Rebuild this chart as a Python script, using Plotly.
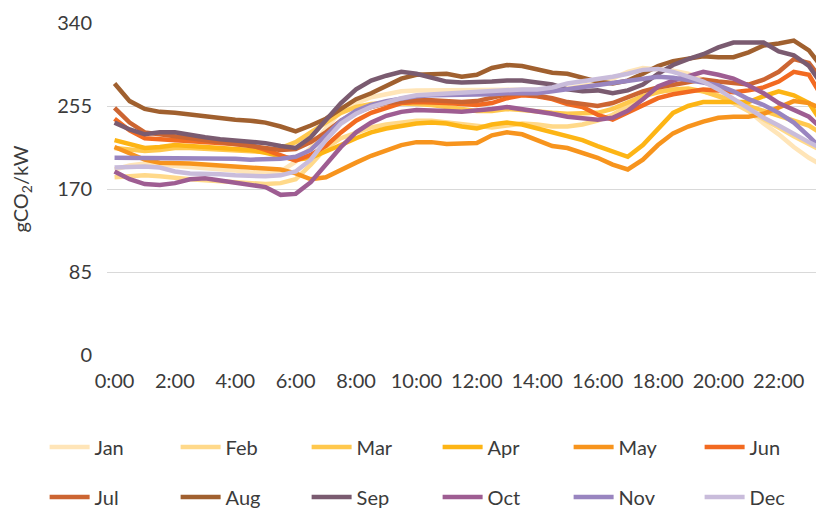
import plotly.graph_objects as go

times = [f"{h}:{m:02d}" for h in range(24) for m in (0, 30)]
tick_labels = ["0:00", "2:00", "4:00", "6:00", "8:00", "10:00", "12:00",
               "14:00", "16:00", "18:00", "20:00", "22:00"]
y_ticks = [0, 85, 170, 255, 340]

months = ["Jan", "Feb", "Mar", "Apr", "May", "Jun",
          "Jul", "Aug", "Sep", "Oct", "Nov", "Dec"]
colors = ["#FFE5B8", "#FFD98A", "#FFC84D", "#FDB515", "#F7941D", "#F26A21",
          "#CC6532", "#A0602F", "#7A5B70", "#9E5D92", "#9985C0", "#C9BCDB"]

jan = [190, 194, 196, 195, 193, 192, 191, 190, 189, 187, 187, 188,
       198, 212, 232, 250, 258, 264, 267, 270, 271, 271, 271, 271,
       271, 272, 272, 272, 272, 272, 273, 275, 278, 283, 290, 294,
       293, 291, 288, 282, 272, 262, 250, 237, 226, 213, 202, 193]
feb = [182, 183, 184, 183, 181, 180, 179, 178, 177, 176, 175, 176,
       180, 195, 212, 222, 228, 233, 236, 238, 240, 240, 238, 236,
       234, 233, 235, 237, 236, 234, 234, 236, 240, 246, 255, 265,
       270, 271, 272, 270, 266, 258, 250, 242, 233, 224, 216, 208]
mar = [212, 210, 209, 210, 212, 212, 211, 210, 209, 208, 208, 212,
       218, 228, 238, 248, 254, 257, 258, 258, 257, 256, 254, 252,
       250, 250, 252, 251, 249, 248, 247, 247, 248, 252, 258, 265,
       269, 272, 273, 270, 265, 260, 255, 250, 246, 241, 235, 225]
apr = [220, 216, 212, 213, 215, 214, 213, 212, 211, 210, 207, 203,
       200, 202, 208, 215, 222, 228, 232, 235, 237, 238, 237, 234,
       232, 236, 238, 236, 232, 229, 225, 220, 214, 208, 203, 215,
       232, 248, 255, 259, 259, 259, 259, 265, 270, 266, 258, 235]
may = [213, 207, 200, 197, 197, 196, 195, 194, 193, 193, 192, 190,
       186, 180, 182, 190, 197, 204, 210, 215, 218, 218, 216, 216,
       217, 225, 228, 226, 220, 214, 212, 207, 202, 195, 190, 200,
       215, 227, 234, 239, 243, 244, 244, 247, 253, 260, 258, 251]
jun = [242, 230, 222, 221, 220, 219, 218, 217, 216, 215, 210, 204,
       199, 205, 214, 228, 240, 248, 253, 258, 259, 259, 258, 257,
       256, 258, 263, 266, 265, 262, 257, 254, 246, 241, 248, 256,
       263, 267, 270, 272, 271, 269, 271, 274, 280, 290, 287, 261]
jul = [253, 238, 228, 226, 224, 222, 220, 219, 217, 215, 212, 210,
       211, 218, 228, 240, 248, 254, 258, 260, 261, 261, 260, 259,
       260, 263, 267, 268, 266, 263, 259, 257, 255, 258, 264, 270,
       274, 277, 280, 282, 280, 278, 277, 282, 290, 303, 299, 279]
aug = [278, 260, 252, 249, 248, 246, 244, 242, 241, 240, 238, 234,
       229, 235, 242, 252, 262, 268, 276, 283, 287, 288, 288, 285,
       287, 294, 297, 296, 292, 289, 288, 284, 280, 278, 281, 288,
       296, 301, 304, 306, 305, 305, 310, 317, 319, 322, 312, 292]
sep = [238, 231, 226, 228, 228, 225, 223, 221, 220, 219, 217, 214,
       212, 223, 240, 258, 272, 281, 286, 290, 288, 284, 280, 279,
       279, 280, 281, 281, 279, 277, 272, 270, 271, 268, 271, 277,
       288, 297, 303, 308, 315, 320, 320, 320, 311, 307, 296, 274]
oct_ = [188, 180, 175, 174, 176, 180, 181, 179, 176, 174, 172, 164,
        165, 177, 195, 213, 228, 238, 245, 249, 251, 251, 250, 249,
        250, 252, 254, 252, 249, 247, 244, 242, 241, 243, 250, 262,
        275, 281, 285, 290, 287, 283, 276, 268, 258, 251, 244, 230]
nov = [202, 202, 202, 202, 202, 202, 202, 201, 201, 200, 200, 201,
       203, 210, 225, 240, 250, 256, 260, 263, 265, 266, 266, 267,
       267, 267, 268, 268, 268, 270, 272, 274, 276, 278, 280, 283,
       285, 284, 282, 279, 276, 270, 262, 256, 248, 238, 224, 208]
dec = [192, 193, 193, 192, 188, 186, 186, 185, 184, 183, 183, 184,
       188, 200, 220, 237, 247, 254, 259, 263, 266, 267, 268, 269,
       270, 270, 271, 272, 272, 274, 278, 280, 282, 285, 288, 292,
       293, 290, 285, 280, 272, 262, 252, 243, 235, 226, 218, 210]

series = [jan, feb, mar, apr, may, jun, jul, aug, sep, oct_, nov, dec]

x_idx = list(range(len(times)))
tick_idx = [i for i, t in enumerate(times) if t in tick_labels]

fig = go.Figure()
for k, (name, vals, col) in enumerate(zip(months, series, colors)):
    fig.add_trace(go.Scatter(
        x=x_idx, y=vals, name=name, mode="lines",
        line=dict(color=col, width=4.5),
        legend="legend" if k < 6 else "legend2",
        hoverinfo="skip",
    ))

FONT = "Lato"
TXT = "#3b3b3b"

legend_common = dict(
    orientation="h",
    font=dict(family=FONT, size=20, color=TXT),
    entrywidth=76, entrywidthmode="pixels",
    xanchor="left", yanchor="middle",
    bgcolor="rgba(0,0,0,0)",
    itemwidth=40,
    traceorder="normal",
)

# The page body adds an 8px offset; the figure is sized to fit the window.
fig.update_layout(
    width=816, height=501,
    margin=dict(l=99, r=0, t=15, b=154, autoexpand=False),
    paper_bgcolor="white", plot_bgcolor="white",
    font=dict(family=FONT, size=20, color=TXT),
    showlegend=True,
    legend=dict(x=-0.087, y=-0.277, **legend_common),
    legend2=dict(x=-0.087, y=-0.428, **legend_common),
    xaxis=dict(
        range=[-0.5, 47.0],
        tickmode="array", tickvals=tick_idx, ticktext=tick_labels,
        showgrid=False, zeroline=False, showline=False, ticks="",
        tickfont=dict(family=FONT, size=20, color=TXT),
        ticklabelstandoff=12,
        fixedrange=True,
    ),
    yaxis=dict(
        range=[0, 340],
        tickmode="array", tickvals=y_ticks,
        showgrid=True, gridcolor="#d9d9d9", gridwidth=1.3,
        zeroline=False, showline=False, ticks="",
        tickfont=dict(family=FONT, size=20, color=TXT),
        ticklabelstandoff=14,
        title=dict(text="gCO<sub>2</sub>/kW",
                   font=dict(family=FONT, size=20, color=TXT), standoff=25),
        fixedrange=True,
    ),
)

fig.write_html("out.html")
